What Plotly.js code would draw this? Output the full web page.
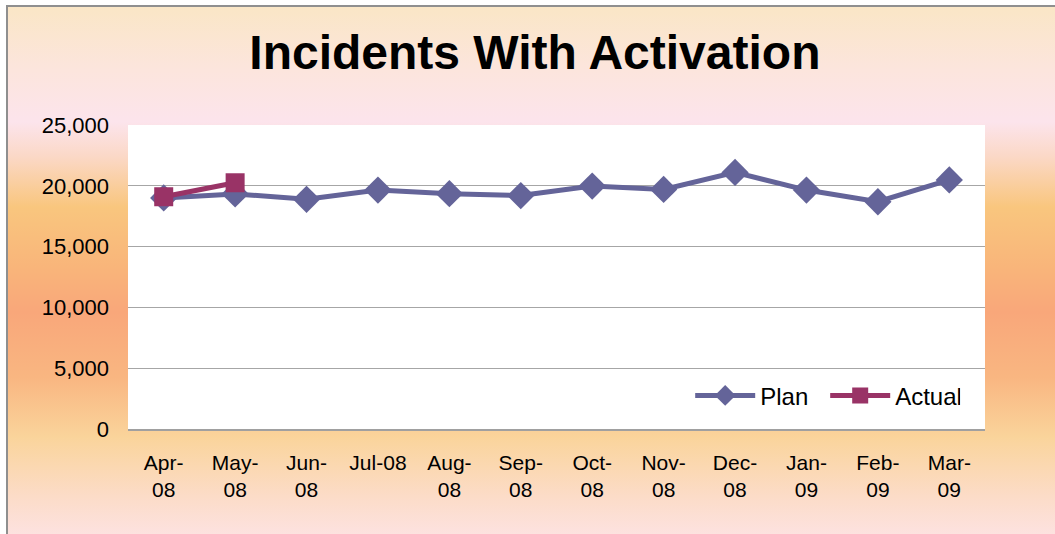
<!DOCTYPE html>
<html>
<head>
<meta charset="utf-8">
<script src="https://cdn.plot.ly/plotly-3.0.1.min.js"></script>
<style>
  html, body { margin: 0; padding: 0; background: #ffffff; }
  #wrap { position: relative; width: 1055px; height: 534px; overflow: hidden; }
  #bg {
    position: absolute; left: 6px; top: 5px; right: -4px; bottom: -4px;
    border-left: 2px solid #8f8f8f; border-top: 2px solid #8f8f8f;
    background: linear-gradient(to bottom,
      #fae6c6 0px, #fce5dc 60px, #fce4ec 115px, #fbd8c6 150px, #f9c67e 200px,
      #f9b57a 260px, #f9a77a 305px, #f9b681 370px, #fad49b 430px,
      #fcdcc8 490px, #fde3e4 534px);
  }
  #chart { position: absolute; left: 0; top: 0; width: 1055px; height: 534px; }
</style>
</head>
<body>
<div id="wrap"><div id="bg"></div><div id="chart"></div></div>
<script>
const months = ['Apr-08','May-08','Jun-08','Jul-08','Aug-08','Sep-08','Oct-08','Nov-08','Dec-08','Jan-09','Feb-09','Mar-09'];
const tickLabels = ['Apr-<br>08','May-<br>08','Jun-<br>08','Jul-08','Aug-<br>08','Sep-<br>08','Oct-<br>08','Nov-<br>08','Dec-<br>08','Jan-<br>09','Feb-<br>09','Mar-<br>09'];
const planValues = [19000, 19330, 18890, 19650, 19350, 19200, 19980, 19700, 21100, 19650, 18690, 20480];
const actualMonths = ['Apr-08','May-08'];
const actualValues = [19100, 20250];

const traces = [
  {
    name: 'Plan', x: months, y: planValues, type: 'scatter', mode: 'lines+markers',
    line: {color: '#646499', width: 5},
    marker: {symbol: 'diamond', size: 21, color: '#646499'}
  },
  {
    name: 'Actual', x: actualMonths, y: actualValues, type: 'scatter', mode: 'lines+markers',
    line: {color: '#993366', width: 5},
    marker: {symbol: 'square', size: 19, color: '#993366'}
  }
];

const layout = {
  width: 1055, height: 534,
  margin: {l: 128, r: 70, t: 125, b: 105},
  paper_bgcolor: 'rgba(0,0,0,0)',
  plot_bgcolor: '#ffffff',
  font: {family: 'Liberation Sans, Arial, sans-serif', color: '#000000', size: 21},
  title: {
    text: '<b>Incidents With Activation</b>',
    font: {family: 'Liberation Sans, Arial, sans-serif', size: 48, color: '#000000'},
    x: 0.507, xref: 'container', xanchor: 'center',
    y: 0.903, yref: 'container', yanchor: 'middle'
  },
  xaxis: {
    type: 'category', categoryarray: months, range: [-0.5, 11.5],
    tickvals: months, ticktext: tickLabels,
    showgrid: false, zeroline: false,
    showline: true, linecolor: '#a0a0a0', linewidth: 1.5,
    ticks: '', ticklabelstandoff: 14,
    tickfont: {size: 21}
  },
  yaxis: {
    range: [0, 25000], dtick: 5000, tickformat: ',d',
    showgrid: true, gridcolor: '#a6a6a6', gridwidth: 1,
    zeroline: false, showline: false, ticks: '',
    ticklabelstandoff: 18,
    tickfont: {size: 22}
  },
  legend: {
    orientation: 'h', x: 0.656, xanchor: 'left', y: 0.109, yanchor: 'middle',
    bgcolor: 'rgba(0,0,0,0)', font: {size: 24}, itemwidth: 60,
    entrywidth: 60, entrywidthmode: 'pixels', traceorder: 'normal'
  },
  showlegend: true
};

Plotly.newPlot('chart', traces, layout, {displayModeBar: false, staticPlot: true});
</script>
</body>
</html>
